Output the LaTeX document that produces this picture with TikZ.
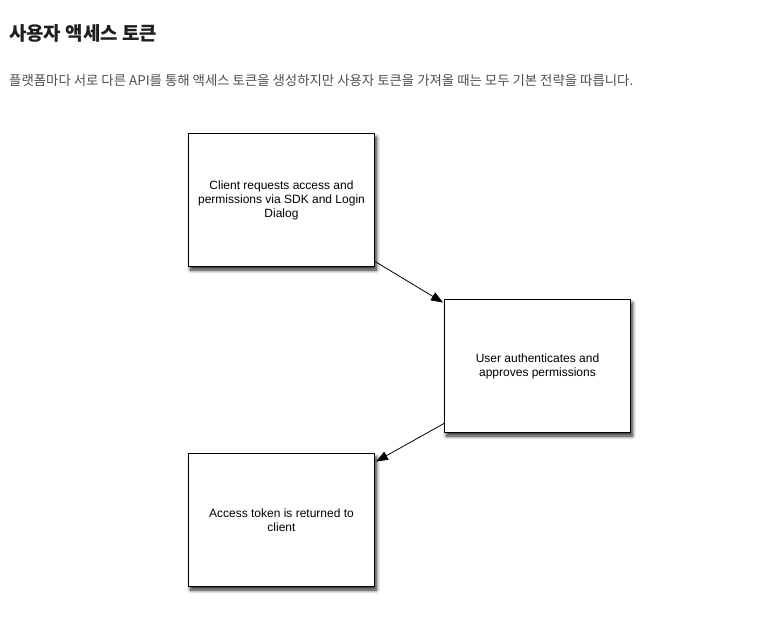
\documentclass[tikz,border=0pt]{standalone}
\usepackage{fontspec}
\setmainfont{Liberation Sans}
\newfontfamily\krfont{Noto Sans CJK KR}
\usetikzlibrary{arrows.meta,shadows.blur}
\definecolor{titlecol}{HTML}{1C1E21}
\definecolor{subcol}{HTML}{4B4F56}
\tikzset{
  x=1pt,y=-1pt,
  stepbox/.style={draw=black,fill=white,line width=0.9pt,minimum width=186pt,minimum height=133pt,
    inner sep=0pt,align=center,font=\fontsize{12}{14}\selectfont,
    blur shadow={shadow xshift=2pt,shadow yshift=-4pt,shadow blur steps=8,shadow blur radius=3.5pt,shadow opacity=85}},
  arr/.style={draw=black,line width=0.8pt,-{Triangle[length=12pt,width=9pt]}},
}
\begin{document}
\begin{tikzpicture}
\useasboundingbox (0,0) rectangle (760,621);
\node[anchor=base west,inner sep=0pt,text=titlecol,font=\krfont\bfseries\fontsize{18.9}{22}\selectfont] (title) at (9,40) {사용자 액세스 토큰};
\node[anchor=base west,inner sep=0pt,text=subcol,font=\krfont\fontsize{13.4}{15}\selectfont] (sub) at (9,85.5) {플랫폼마다 서로 다른 API를 통해 액세스 토큰을 생성하지만 사용자 토큰을 가져올 때는 모두 기본 전략을 따릅니다.};
\node[stepbox] (b1) at (281.5,199.5) {};
\node[align=center,font=\fontsize{12}{14}\selectfont,inner sep=0pt] (t1) at ([yshift=-1pt]b1.center) {Client requests access and\\permissions via SDK and Login\\Dialog};
\node[stepbox] (b2) at (537.5,365.5) {};
\node[align=center,font=\fontsize{12}{14}\selectfont,inner sep=0pt] (t2) at ([yshift=-1pt]b2.center) {User authenticates and\\approves permissions};
\node[stepbox] (b3) at (281.5,519.5) {};
\node[align=center,font=\fontsize{12}{14}\selectfont,inner sep=0pt] (t3) at ([yshift=-1pt]b3.center) {Access token is returned to\\client};
\draw[arr] ([yshift=5pt]b1.south east) -- ([xshift=-1pt,yshift=-4pt]b2.north west);
\draw[arr] ([yshift=9pt]b2.south west) -- ([xshift=1pt,yshift=-9pt]b3.north east);
\end{tikzpicture}
\end{document}
